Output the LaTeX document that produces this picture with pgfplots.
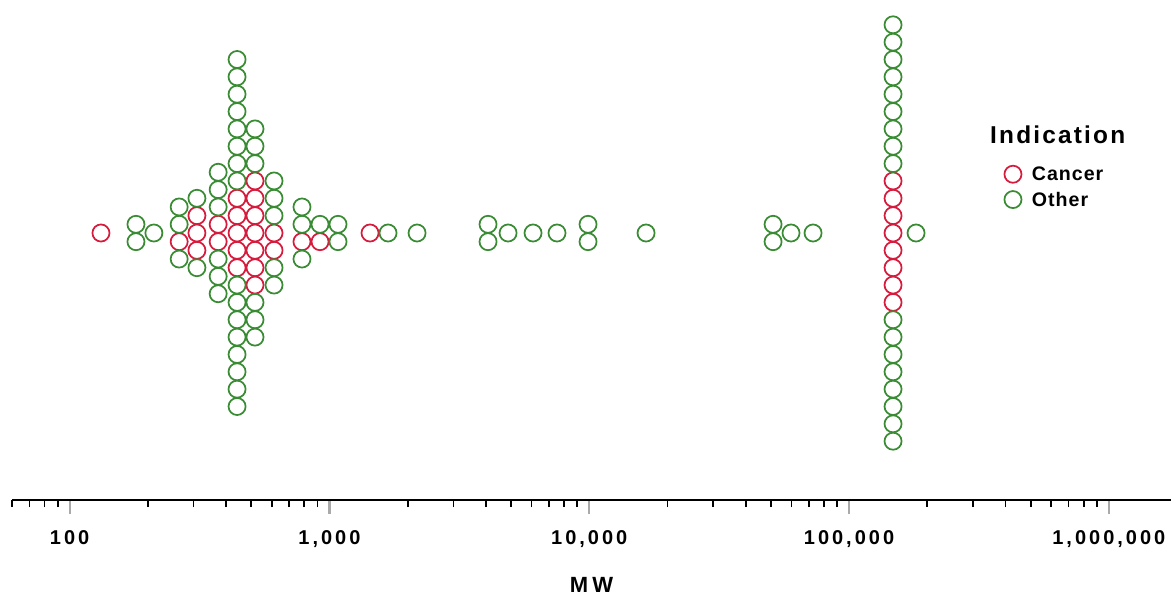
\documentclass[border=0pt]{standalone}
\usepackage{fontspec}
\setmainfont{Liberation Sans}
\newfontfamily\tickfont{Liberation Sans}[LetterSpace=15]
\newfontfamily\titlefont{Liberation Sans}[LetterSpace=9]
\newfontfamily\legfont{Liberation Sans}[LetterSpace=5]
\newfontfamily\labfont{Liberation Sans}[LetterSpace=18]
\usepackage{pgfplots}
\pgfplotsset{compat=1.18}
\definecolor{cancerred}{RGB}{214,27,61}
\definecolor{othergreen}{RGB}{58,140,52}
\definecolor{majtick}{RGB}{170,170,170}

\begin{document}
\begin{tikzpicture}
\begin{axis}[
  name=ax,
  scale only axis, width=869.25pt, height=375pt,
  xmode=log, xmin=60, xmax=1.735e6,
  ymin=-15.39, ymax=13.43,
  clip=false,
  axis x line*=bottom, axis y line=none, ytick=\empty,
  axis line style={black, line width=1.7pt},
  xtick={100,1000,10000,100000,1000000},
  xticklabels={100,{1,000},{10,000},{100,000},{1,000,000}},
  minor xtick={60,70,80,90,200,300,400,500,600,700,800,900,
    2000,3000,4000,5000,6000,7000,8000,9000,
    20000,30000,40000,50000,60000,70000,80000,90000,
    200000,300000,400000,500000,600000,700000,800000,900000},
  tick align=outside,
  major tick length=10.5pt, minor tick length=5.25pt,
  major tick style={majtick, line width=1.6pt},
  minor tick style={black, line width=1.3pt},
  xticklabel style={font=\tickfont\bfseries\fontsize{15}{16}\selectfont, anchor=base, yshift=-22.5pt},
  xlabel={MW},
  xlabel style={font=\labfont\bfseries\fontsize{16.5}{18}\selectfont, at={(axis description cs:0.5,0)}, anchor=base, yshift=-69pt},
  legend style={draw=none, fill=none, at={(rel axis cs:0.8553,0.6754)}, anchor=north west,
    inner sep=0pt, outer sep=0pt, row sep=-0.5pt,
    /tikz/every odd column/.append style={column sep=7pt},
    font=\legfont\bfseries\fontsize{14.7}{16}\selectfont,
    nodes={inner sep=0pt, text height=14pt, text depth=5.5pt}},
  legend cell align=left,
  legend image code/.code={\path[draw=none,fill=none] (0pt,-6pt) rectangle (14.5pt,8pt);
    \draw[#1] plot coordinates {(7.25pt,0.8pt)};},
]
% Cancer
\addplot[only marks, mark=o, cancerred, mark size=6.4pt, mark options={line width=1.3pt}] coordinates {
  (132,0)
  (264,-0.5)
  (309,1) (309,0) (309,-1)
  (373,0.5) (373,-0.5)
  (441,2) (441,1) (441,0) (441,-1) (441,-2)
  (517,3) (517,2) (517,1) (517,0) (517,-1) (517,-2) (517,-3)
  (612,0) (612,-1)
  (784,-0.5)
  (920,-0.5)
  (1433,0)
  (147700,3) (147700,2) (147700,1) (147700,0) (147700,-1) (147700,-2) (147700,-3) (147700,-4)
};
\addlegendentry{Cancer}
% Other
\addplot[only marks, mark=o, othergreen, mark size=6.4pt, mark options={line width=1.3pt}] coordinates {
  (180,0.5) (180,-0.5)
  (211,0)
  (264,1.5) (264,0.5) (264,-1.5)
  (309,2) (309,-2)
  (373,3.5) (373,2.5) (373,1.5) (373,-1.5) (373,-2.5) (373,-3.5)
  (441,10) (441,9) (441,8) (441,7) (441,6) (441,5) (441,4) (441,3)
  (441,-3) (441,-4) (441,-5) (441,-6) (441,-7) (441,-8) (441,-9) (441,-10)
  (517,6) (517,5) (517,4) (517,-4) (517,-5) (517,-6)
  (612,3) (612,2) (612,1) (612,-2) (612,-3)
  (784,1.5) (784,0.5) (784,-1.5)
  (920,0.5)
  (1079,0.5) (1079,-0.5)
  (1681,0)
  (2174,0)
  (4078,0.5) (4078,-0.5)
  (4870,0)
  (6077,0)
  (7516,0)
  (9894,0.5) (9894,-0.5)
  (16545,0)
  (51000,0.5) (51000,-0.5)
  (59800,0)
  (72700,0)
  (147700,12) (147700,11) (147700,10) (147700,9) (147700,8) (147700,7) (147700,6) (147700,5) (147700,4)
  (147700,-5) (147700,-6) (147700,-7) (147700,-8) (147700,-9) (147700,-10) (147700,-11) (147700,-12)
  (181100,0)
};
\addlegendentry{Other}
\node[anchor=base west, inner sep=0pt, font=\titlefont\bfseries\fontsize{18.3}{20}\selectfont]
  at (rel axis cs:0.8438,0.712) {Indication};
\end{axis}
\pgfresetboundingbox
\path[use as bounding box] ([xshift=-9pt,yshift=-72.75pt]ax.south west) rectangle (ax.north east);
\end{tikzpicture}
\end{document}
